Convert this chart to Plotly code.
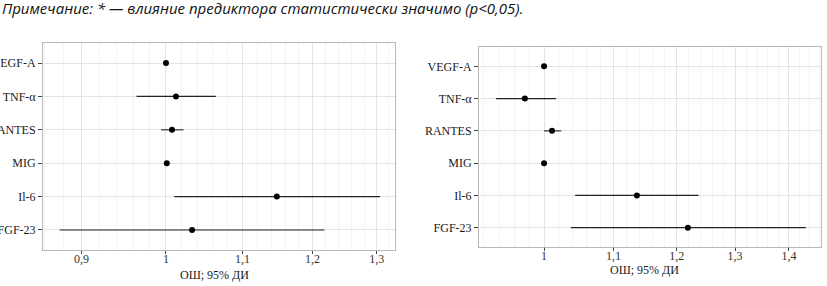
import numpy as np
import plotly.graph_objects as go

predictors = ["VEGF-A", "TNF-α", "RANTES", "MIG", "Il-6", "FGF-23"]

# Left panel: odds ratio and 95% CI
or_left = [1.000, 1.0125, 1.0075, 1.001, 1.148, 1.033]
lo_left = [0.999, 0.964, 0.994, 1.000, 1.0104, 0.876]
hi_left = [1.001, 1.064, 1.022, 1.002, 1.3055, 1.218]

# Right panel
or_right = [1.000, 0.974, 1.011, 1.000, 1.136, 1.2185]
lo_right = [0.999, 0.936, 1.000, 0.999, 1.0436, 1.0374]
hi_right = [1.001, 1.0166, 1.0237, 1.001, 1.2365, 1.433]

ref_or = 1.0

ticks_left = [0.9, 1.0, 1.1, 1.2, 1.3]
ticklabels_left = ["0,9", "1", "1,1", "1,2", "1,3"]
ticks_right = [1.0, 1.1, 1.2, 1.3, 1.4]
ticklabels_right = ["1", "1,1", "1,2", "1,3", "1,4"]

note = "Примечание: * — влияние предиктора статистически значимо (p<0,05)."
xtitle = "ОШ; 95% ДИ"

W, H = 827, 286
fig = go.Figure()

ypos = list(range(len(predictors)))


def add_panel(orv, lo, hi, xa, ya):
    plus = [h - o for h, o in zip(hi, orv)]
    minus = [o - l for o, l in zip(orv, lo)]
    fig.add_trace(go.Scatter(
        x=orv, y=ypos, mode="markers",
        marker=dict(color="black", size=6),
        error_x=dict(type="data", symmetric=False, array=plus, arrayminus=minus,
                     color="#222222", thickness=1.1, width=0),
        xaxis=xa, yaxis=ya, showlegend=False, hoverinfo="skip",
    ))


add_panel(or_left, lo_left, hi_left, "x", "y")
add_panel(or_right, lo_right, hi_right, "x2", "y2")

font_serif = "Liberation Serif, DejaVu Serif, serif"
grid_major = "#e3e3e3"
grid_minor = "#f3f3f3"
border = "#b8b8b8"

common_x = dict(type="log", showline=True, mirror=True, linecolor=border, linewidth=1,
                showgrid=True, gridcolor=grid_major, gridwidth=1, zeroline=False,
                ticks="outside", ticklen=3, tickcolor="#444444", automargin=False,
                ticklabelstandoff=-5,
                tickfont=dict(family=font_serif, size=12, color="#333333"))
common_y = dict(showline=True, mirror=True, linecolor=border, linewidth=1,
                showgrid=True, gridcolor=grid_major, zeroline=False, automargin=False,
                tickvals=ypos, ticktext=predictors, range=[5.6, -0.6],
                ticks="outside", ticklen=4, tickcolor="#444444",
                tickfont=dict(family=font_serif, size=12, color="#1a1a1a"))

minor_left = list(np.round(np.arange(0.86, 1.34, 0.02), 3))
minor_right = list(np.round(np.arange(0.92, 1.47, 0.02), 3))

fig.update_layout(
    width=W, height=H,
    margin=dict(l=0, r=0, t=0, b=0, autoexpand=False),
    plot_bgcolor="white", paper_bgcolor="white",
    xaxis=dict(domain=[43 / W, 395 / W], anchor="y",
               range=[np.log10(0.858), np.log10(1.330)],
               tickvals=ticks_left, ticktext=ticklabels_left,
               minor=dict(tickvals=minor_left, showgrid=True, gridcolor=grid_minor, ticks=""),
               **common_x),
    yaxis=dict(domain=[1 - 250 / H, 1 - 43 / H], anchor="x", **common_y),
    xaxis2=dict(domain=[479 / W, 821 / W], anchor="y2",
                range=[np.log10(0.9145), np.log10(1.463)],
                tickvals=ticks_right, ticktext=ticklabels_right,
                minor=dict(tickvals=minor_right, showgrid=True, gridcolor=grid_minor, ticks=""),
                **common_x),
    yaxis2=dict(domain=[1 - 247 / H, 1 - 47 / H], anchor="x2", **common_y),
)

# reference line at OR = 1 (shape x on log axes is given in log10 units)
for xr, yr in (("x", "y domain"), ("x2", "y2 domain")):
    fig.add_shape(type="line", xref=xr, yref=yr,
                  x0=np.log10(ref_or), x1=np.log10(ref_or), y0=0, y1=1,
                  line=dict(color="#444444", width=1, dash="dash"))

fig.add_annotation(text=note, xref="paper", yref="paper", x=0, y=1 - 8 / H,
                   xanchor="left", yanchor="middle", showarrow=False,
                   font=dict(family="Open Sans, Noto Sans, sans-serif", size=15, color="#111111",
                             style="italic"))
fig.add_annotation(text=xtitle, xref="paper", yref="paper", x=214 / W, y=1 - 275 / H,
                   xanchor="center", yanchor="middle", showarrow=False,
                   font=dict(family=font_serif, size=12, color="#1a1a1a"))
fig.add_annotation(text=xtitle, xref="paper", yref="paper", x=644 / W, y=1 - 270 / H,
                   xanchor="center", yanchor="middle", showarrow=False,
                   font=dict(family=font_serif, size=12, color="#1a1a1a"))

fig.write_html("out.html", config={"displayModeBar": False},
               post_script="document.body.style.margin='0';")
